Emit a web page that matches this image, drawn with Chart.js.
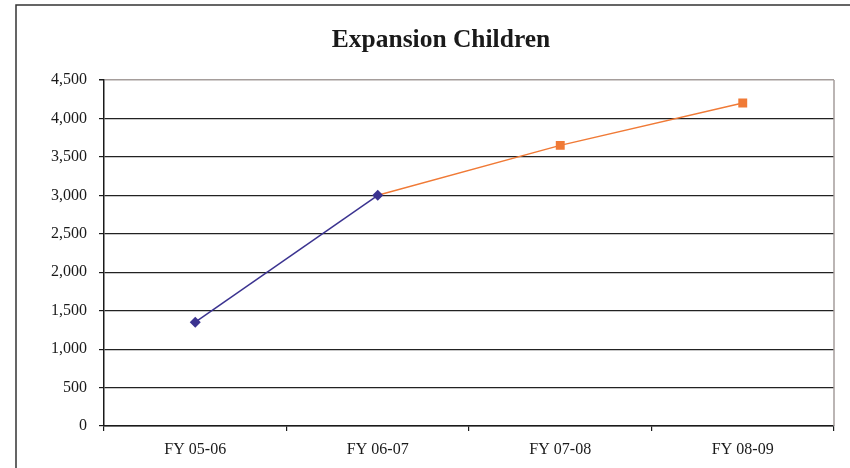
<!DOCTYPE html>
<html>
<head>
<meta charset="utf-8">
<title>Expansion Children</title>
<script src="https://cdn.jsdelivr.net/npm/chart.js@4/dist/chart.umd.min.js"></script>
<style>
  html, body { margin: 0; padding: 0; background: #ffffff; }
  #wrap { width: 850px; height: 468px; }
</style>
</head>
<body>
<div id="wrap"><canvas id="chart" width="850" height="468"></canvas></div>
<script>
// Fiscal years on the category axis
const categories = ['FY 05-06', 'FY 06-07', 'FY 07-08', 'FY 08-09'];
// Reported counts (first two years)
const reported = [1350, 3000, null, null];
// Projected counts (continuing from FY 06-07)
const projected = [null, 3000, 3650, 4200];
// Value axis range
const yMin = 0;
const yMax = 4500;
const yStep = 500;

const chartTitle = 'Expansion Children';
const serif = '"Liberation Serif", "Times New Roman", serif';

// Outer frame, plot border and the chart heading
const decorations = {
  id: 'decorations',
  beforeDraw(chart) {
    const ctx = chart.ctx;
    ctx.save();
    ctx.fillStyle = '#ffffff';
    ctx.fillRect(0, 0, chart.width, chart.height);
    ctx.restore();
  },
  afterDatasetsDraw(chart) {
    const { ctx, chartArea } = chart;
    ctx.save();
    // light border on the right edge of the plot area
    ctx.strokeStyle = '#a59d9b';
    ctx.lineWidth = 1.5;
    ctx.beginPath();
    ctx.moveTo(chartArea.right, chartArea.top);
    ctx.lineTo(chartArea.right, chartArea.bottom);
    ctx.stroke();
    ctx.restore();
  },
  afterDraw(chart) {
    const ctx = chart.ctx;
    ctx.save();
    // frame around the whole chart
    ctx.strokeStyle = '#333333';
    ctx.lineWidth = 1.5;
    ctx.beginPath();
    ctx.moveTo(16, chart.height + 2);
    ctx.lineTo(16, 5);
    ctx.lineTo(chart.width + 2, 5);
    ctx.stroke();
    // heading
    ctx.fillStyle = '#1a1a1a';
    ctx.font = 'bold 25.5px ' + serif;
    ctx.textAlign = 'center';
    ctx.textBaseline = 'middle';
    ctx.fillText(chartTitle, 441, 40);
    ctx.restore();
  }
};

new Chart(document.getElementById('chart'), {
  type: 'line',
  data: {
    labels: categories,
    datasets: [
      {
        label: 'Reported',
        data: reported,
        borderColor: '#3b3390',
        backgroundColor: '#3b3390',
        borderWidth: 1.5,
        pointStyle: 'rectRot',
        pointRadius: 5.5,
        pointBorderWidth: 0,
        spanGaps: false,
        tension: 0
      },
      {
        label: 'Projected',
        data: projected,
        borderColor: '#f07a36',
        backgroundColor: '#f07a36',
        borderWidth: 1.5,
        pointStyle: 'rect',
        pointRadius: [0, 0, 6.3, 6.3],
        pointBorderWidth: 0,
        spanGaps: false,
        tension: 0
      }
    ]
  },
  options: {
    responsive: false,
    animation: false,
    devicePixelRatio: 1,
    layout: { padding: { left: 16, right: 16, top: 80, bottom: 0 } },
    plugins: {
      legend: { display: false },
      title: { display: false },
      tooltip: { enabled: false }
    },
    scales: {
      x: {
        type: 'category',
        offset: true,
        grid: {
          offset: true,
          drawOnChartArea: false,
          drawTicks: true,
          tickLength: 5,
          tickColor: '#1a1a1a',
          lineWidth: 1.2
        },
        border: { color: '#1a1a1a', width: 1.5 },
        ticks: {
          color: '#1a1a1a',
          font: { family: serif, size: 16 },
          padding: 9,
          maxRotation: 0
        },
        afterFit(scale) { scale.height = 42; }
      },
      y: {
        min: yMin,
        max: yMax,
        ticks: {
          stepSize: yStep,
          color: '#1a1a1a',
          font: { family: serif, size: 16 },
          padding: 12,
          callback: (v) => v.toLocaleString('en-US')
        },
        grid: {
          color: (c) => (c.tick && c.tick.value === yMax ? '#a59d9b' : '#222222'),
          lineWidth: (c) => (c.tick && c.tick.value === yMax ? 1.5 : 1.2),
          tickLength: 5,
          tickColor: '#1a1a1a',
          drawTicks: true
        },
        border: { color: '#1a1a1a', width: 1.5 },
        afterFit(scale) { scale.width = 88; }
      }
    }
  },
  plugins: [decorations]
});
</script>
</body>
</html>
